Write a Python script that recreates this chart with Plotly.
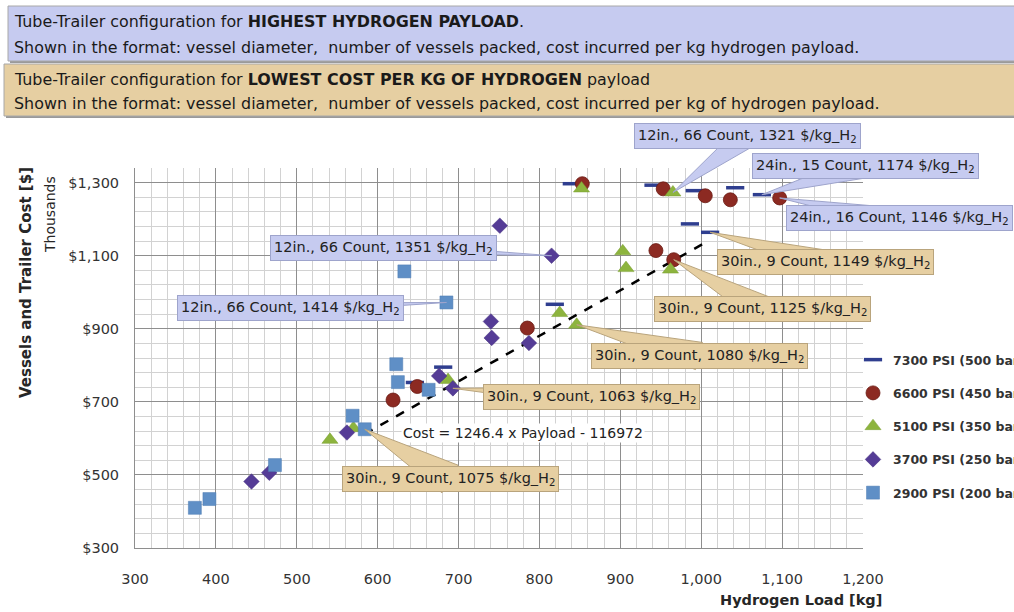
import plotly.graph_objects as go

# ---------------- data (hydrogen load [kg], cost [thousand $]) ----------------
x7300 = [646, 681, 819, 840, 941, 986, 992, 1011, 1042, 1075]
y7300 = [753, 795, 967, 1297, 1293, 1187, 1278, 1164, 1286, 1267]
x6600 = [619, 649, 785, 853, 944, 953, 966, 1005, 1036, 1097]
y6600 = [705, 742, 902, 1297, 1114, 1283, 1089, 1264, 1253, 1258]
x5100 = [541, 570, 687, 825, 846, 852, 903, 907, 962, 965]
y5100 = [596, 628, 760, 943, 911, 1284, 1112, 1066, 1062, 1273]
x3700 = [444, 466, 562, 676, 693, 740, 741, 751, 787, 815]
y3700 = [482, 506, 616, 771, 737, 920, 875, 1182, 861, 1100]
x2900 = [374, 392, 473, 569, 584, 623, 625, 633, 663, 685]
y2900 = [410, 434, 527, 662, 625, 803, 754, 1057, 733, 972]

series_names = ["7300 PSI (500 bar)", "6600 PSI (450 bar)", "5100 PSI (350 bar)",
                "3700 PSI (250 bar)", "2900 PSI (200 bar)"]

trend_x = [584, 1010]
trend_y = [612, 1142]
trend_label = "Cost = 1246.4 x Payload - 116972"

x_ticks = [300, 400, 500, 600, 700, 800, 900, 1000, 1100, 1200]
y_ticks = [300, 500, 700, 900, 1100, 1300]

# callouts: (text, series index, point index, kind)
callouts = [
    ("12in., 66 Count, 1321 $/kg_H<sub>2</sub>", 2, 9, "hi"),
    ("24in., 15 Count, 1174 $/kg_H<sub>2</sub>", 0, 9, "hi"),
    ("24in., 16 Count, 1146 $/kg_H<sub>2</sub>", 1, 9, "hi"),
    ("12in., 66 Count, 1351 $/kg_H<sub>2</sub>", 3, 9, "hi"),
    ("12in., 66 Count, 1414 $/kg_H<sub>2</sub>", 4, 9, "hi"),
    ("30in., 9 Count, 1149 $/kg_H<sub>2</sub>", 0, 7, "lo"),
    ("30in., 9 Count, 1125 $/kg_H<sub>2</sub>", 1, 6, "lo"),
    ("30in., 9 Count, 1080 $/kg_H<sub>2</sub>", 2, 4, "lo"),
    ("30in., 9 Count, 1063 $/kg_H<sub>2</sub>", 3, 4, "lo"),
    ("30in., 9 Count, 1075 $/kg_H<sub>2</sub>", 4, 4, "lo"),
]
# label box centers in page pixels, and wedge half-width
callout_pos = [(747, 136, 12), (865, 166, 12), (899, 218, 10), (383, 248, 5), (290, 308, 5),
               (825, 262, 12), (762, 309, 14), (699, 356, 14), (591, 397, 10), (450, 479, 16)]

# ---------------- layout geometry ----------------
W, H = 1014, 612
PL, PR, PT, PB = 135, 863, 168, 548
XR = (300, 1200)
YR = (300, 1340)


def pxx(x):
    return (x - PL) / (PR - PL)


def pxy(y):
    return (PB - y) / (PB - PT)


def d2px(x, y):
    return (PL + (x - XR[0]) / (XR[1] - XR[0]) * (PR - PL),
            PB - (y - YR[0]) / (YR[1] - YR[0]) * (PB - PT))


FONT = "DejaVu Sans"
LAV, LAV_B = "#C6CBF0", "#9EA4CC"
TAN, TAN_B = "#E6CFA2", "#B9A47C"

xs = [x7300, x6600, x5100, x3700, x2900]
ys = [y7300, y6600, y5100, y3700, y2900]
markers = [
    dict(symbol="line-ew", size=13, color="#2F3E8F", line=dict(color="#2F3E8F", width=3.5)),
    dict(symbol="circle", size=14, color="#8C2A22", line=dict(color="#6A1912", width=0.8)),
    dict(symbol="triangle-up", size=14, color="#8DB43E", line=dict(color="#7A9E32", width=0.5)),
    dict(symbol="diamond", size=12, color="#553C96", line=dict(color="#45307E", width=0.5)),
    dict(symbol="square", size=13, color="#5F8FC6", line=dict(color="#4F7DB2", width=0.5)),
]

fig = go.Figure()

fig.add_trace(go.Scatter(x=trend_x, y=trend_y, mode="lines", showlegend=False,
                         line=dict(color="black", width=2.5, dash="dash"), hoverinfo="skip"))

for i in range(5):
    fig.add_trace(go.Scatter(x=xs[i], y=ys[i], mode="markers", name="<b>" + series_names[i] + "</b>",
                             marker=markers[i], legendgroup=str(i), cliponaxis=False))

shapes = []
annotations = []

# header boxes
for (top, bot, col, left) in [(6, 61, LAV, 8), (64, 116, TAN, 4)]:
    shapes.append(dict(type="rect", xref="paper", yref="paper",
                       x0=pxx(left + 2), x1=pxx(W + 10), y0=pxy(bot + 2), y1=pxy(top + 2),
                       fillcolor="#9A9A9A", line=dict(width=0), layer="above"))
    shapes.append(dict(type="rect", xref="paper", yref="paper",
                       x0=pxx(left), x1=pxx(W + 10), y0=pxy(bot), y1=pxy(top),
                       fillcolor=col, line=dict(color="#A8A8A8", width=1), layer="above"))

header_lines = [
    ("Tube-Trailer configuration for <b>HIGHEST HYDROGEN PAYLOAD</b>.", 21),
    ("Shown in the format: vessel diameter,  number of vessels packed, cost incurred per kg hydrogen payload.", 47),
    ("Tube-Trailer configuration for <b>LOWEST COST PER KG OF HYDROGEN</b> payload", 79),
    ("Shown in the format: vessel diameter,  number of vessels packed, cost incurred per kg of hydrogen payload.", 104),
]
for txt, yc in header_lines:
    annotations.append(dict(text=txt, xref="paper", yref="paper", x=pxx(12), y=pxy(yc),
                            xanchor="left", yanchor="middle", showarrow=False,
                            font=dict(family=FONT, size=15.9, color="#1a1a1a")))

# callouts
for (txt, si, pi, kind), (cx, cy, hw) in zip(callouts, callout_pos):
    tx, ty = d2px(xs[si][pi], ys[si][pi])
    dx, dy = tx - cx, ty - cy
    L = (dx * dx + dy * dy) ** 0.5
    nx, ny = -dy / L, dx / L
    bg, bc = (LAV, LAV_B) if kind == "hi" else (TAN, TAN_B)
    p1 = (cx + nx * hw, cy + ny * hw)
    p2 = (cx - nx * hw, cy - ny * hw)
    path = "M {:.5f},{:.5f} L {:.5f},{:.5f} L {:.5f},{:.5f} Z".format(
        pxx(p1[0]), pxy(p1[1]), pxx(tx), pxy(ty), pxx(p2[0]), pxy(p2[1]))
    shapes.append(dict(type="path", xref="paper", yref="paper", path=path,
                       fillcolor=bg, line=dict(color=bc, width=1), layer="above"))
    annotations.append(dict(text=txt, xref="paper", yref="paper", x=pxx(cx), y=pxy(cy),
                            xanchor="center", yanchor="middle", showarrow=False,
                            bgcolor=bg, bordercolor=bc, borderwidth=1, borderpad=3,
                            font=dict(family=FONT, size=14.5, color="#222")))

# trend label
annotations.append(dict(text=trend_label, xref="paper", yref="paper", x=pxx(523), y=pxy(433),
                        xanchor="center", yanchor="middle", showarrow=False, bgcolor="white",
                        font=dict(family=FONT, size=14, color="#222")))

# axis titles
annotations.append(dict(text="<b>Vessels and Trailer Cost [$]</b>", xref="paper", yref="paper",
                        x=pxx(26), y=pxy(283), textangle=-90, showarrow=False,
                        xanchor="center", yanchor="middle",
                        font=dict(family=FONT, size=15, color="#262626")))
annotations.append(dict(text="Thousands", xref="paper", yref="paper",
                        x=pxx(50), y=pxy(215), textangle=-90, showarrow=False,
                        xanchor="center", yanchor="middle",
                        font=dict(family=FONT, size=14, color="#262626")))
annotations.append(dict(text="<b>Hydrogen Load [kg]</b>", xref="paper", yref="paper",
                        x=pxx(801), y=pxy(600), showarrow=False,
                        xanchor="center", yanchor="middle",
                        font=dict(family=FONT, size=14.5, color="#262626")))

fig.update_layout(
    width=W, height=H,
    margin=dict(l=PL, r=W - PR, t=PT, b=H - PB, pad=0, autoexpand=False),
    paper_bgcolor="white", plot_bgcolor="white",
    shapes=shapes, annotations=annotations,
    legend=dict(x=pxx(853), y=pxy(345), xanchor="left", yanchor="top",
                traceorder="grouped", tracegroupgap=14, itemwidth=30,
                bgcolor="rgba(0,0,0,0)",
                font=dict(family=FONT, size=12.5, color="#333")),
    xaxis=dict(range=list(XR), tickmode="array", tickvals=x_ticks,
               ticktext=[f"{v:,}" for v in x_ticks],
               showgrid=True, gridcolor="#8E8E8E", gridwidth=1,
               minor=dict(dtick=20, tick0=300, showgrid=True, gridcolor="#D2D2D2", gridwidth=1),
               showline=True, linecolor="#8E8E8E", zeroline=False, ticks="",
               ticklabelstandoff=18,
               tickfont=dict(family=FONT, size=14.5, color="#333")),
    yaxis=dict(range=list(YR), tick0=300, dtick=200,
               tickprefix="$", tickformat=",",
               showgrid=True, gridcolor="#8E8E8E", gridwidth=1,
               minor=dict(dtick=40, tick0=300, showgrid=True, gridcolor="#D2D2D2", gridwidth=1),
               showline=True, linecolor="#8E8E8E", zeroline=False, ticks="",
               ticklabelstandoff=12,
               tickfont=dict(family=FONT, size=14.5, color="#333")),
)

fig.write_html("out.html", config={"displayModeBar": False},
               post_script="document.body.style.margin='0';document.body.style.overflow='hidden';")
